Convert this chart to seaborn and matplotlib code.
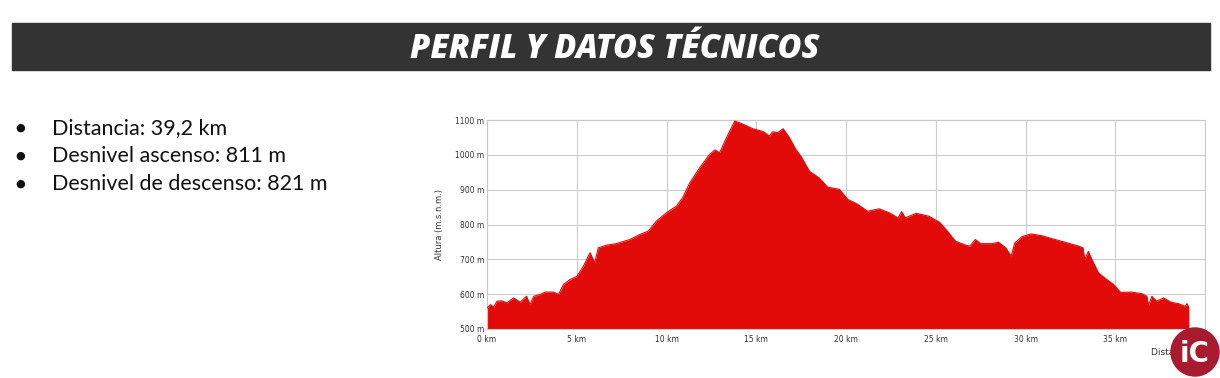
import matplotlib.pyplot as plt
import matplotlib.patches as mpatches
import numpy as np
import pandas as pd
import seaborn as sns

# profile (km, m)
distancia_km = [0.0, 0.19, 0.37, 0.56, 0.83, 1.1, 1.48, 1.85, 2.2, 2.4, 2.6, 2.96, 3.24, 3.7, 3.98,
                4.26, 4.63, 5.0, 5.37, 5.74, 6.0, 6.2, 6.67, 7.2, 7.96, 8.5, 8.98, 9.44, 10.0, 10.56,
                10.9, 11.3, 11.85, 12.4, 12.7, 12.96, 13.3, 13.8, 14.26, 14.8, 15.37, 15.74, 15.9,
                16.2, 16.5, 16.85, 17.2, 17.5, 17.96, 18.5, 18.98, 19.63, 20.1, 20.65, 21.2, 21.85,
                22.4, 22.9, 23.1, 23.3, 23.9, 24.6, 25.2, 25.65, 26.1, 26.7, 26.9, 27.2, 27.5, 28.1,
                28.5, 28.9, 29.2, 29.4, 29.8, 30.3, 30.9, 31.5, 32.2, 32.96, 33.2, 33.3, 33.5, 33.7,
                34.07, 34.4, 34.9, 35.3, 35.9, 36.5, 36.76, 36.85, 37.04, 37.3, 37.7, 38.1, 38.5,
                38.9, 39.0, 39.1]
altura_m = [560, 570, 563, 580, 581, 575, 589, 577, 594, 570, 594, 599, 606, 606, 599,
            628, 642, 651, 680, 719, 690, 733, 741, 745, 757, 771, 781, 810, 834, 853,
            877, 920, 963, 1001, 1014, 1006, 1045, 1097, 1088, 1075, 1067, 1054, 1066,
            1064, 1075, 1049, 1016, 995, 953, 934, 907, 901, 872, 858, 838, 845,
            834, 819, 837, 819, 832, 824, 807, 781, 752, 740, 738, 757, 745, 745,
            749, 733, 709, 747, 765, 773, 768, 759, 749, 738, 733, 699, 723, 699,
            661, 647, 628, 605, 606, 601, 594, 567, 594, 580, 589, 577, 573,
            565, 573, 560]

y_ticks = [500, 600, 700, 800, 900, 1000, 1100]
x_ticks = [0, 5, 10, 15, 20, 25, 30, 35]

titulo = "PERFIL Y DATOS TÉCNICOS"
datos = ["Distancia: 39,2 km", "Desnivel ascenso: 811 m", "Desnivel de descenso: 821 m"]

df = pd.DataFrame({"km": distancia_km, "alt": altura_m})

sns.set_style("whitegrid", {"grid.color": "#cccccc", "axes.edgecolor": "#c8c8c8"})
plt.rcParams['font.family'] = ['DejaVu Sans']

fig = plt.figure(figsize=(12.2, 3.78), dpi=100)

# header band
fig.patches.append(mpatches.Rectangle((12 / 1220, 1 - 70 / 378), 1198 / 1220, 47 / 378,
                                      transform=fig.transFigure, color="#333333", zorder=0))
fig.text(0.504, 1 - 49 / 378, titulo, color="white", fontsize=23.5, fontweight="heavy",
         fontstyle="italic", ha="center", va="center", family=["Open Sans", "DejaVu Sans"])

# bullet list
for i, t in enumerate(datos):
    yy = 1 - (128 + 28 * i) / 378
    fig.text(15 / 1220, yy, "\u25CF", fontsize=8, va="center", ha="left", color="#111111")
    fig.text(52 / 1220, yy, t, fontsize=15.5, va="center", ha="left", color="#111111",
             family=["Lato", "DejaVu Sans"])

ax = fig.add_axes([487 / 1220, 1 - 329 / 378, 718 / 1220, 209 / 378])
ax.fill_between(df["km"], df["alt"], 500, color="#e30a0a", linewidth=0, zorder=2)
sns.lineplot(data=df, x="km", y="alt", ax=ax, color="#e30a0a", linewidth=0.8, zorder=3)

ax.set_xlim(0, 40)
ax.set_ylim(500, 1100)
ax.set_xticks(x_ticks)
ax.set_xticklabels([f"{v} km" for v in x_ticks])
ax.set_yticks(y_ticks)
ax.set_yticklabels([f"{v} m" for v in y_ticks])
ax.tick_params(labelsize=5.5, colors="#333333", pad=2, length=0)
ax.tick_params(axis="x", pad=4)
ax.grid(True, color="#cccccc", linewidth=0.8)
ax.set_axisbelow(True)
for s in ax.spines.values():
    s.set_color("#c8c8c8")
    s.set_linewidth(0.8)
ax.set_xlabel("")
ax.set_ylabel("Altura (m.s.n.m.)", fontsize=6, color="#333333", labelpad=8)

fig.text(1151 / 1220, 1 - 353 / 378, "Distancia (km)", fontsize=6.5, color="#333333",
         ha="left", va="center")

# logo
fig.patches.append(mpatches.Ellipse((1195 / 1220, 1 - 352 / 378), 48 / 1220, 48 / 378,
                                    transform=fig.transFigure, color="#a81a2e", zorder=5))
fig.text(1195 / 1220, 1 - 354 / 378, "iC", color="white", fontsize=20, fontweight="bold",
         ha="center", va="center", zorder=6)

fig.savefig("out.png", dpi=100)
